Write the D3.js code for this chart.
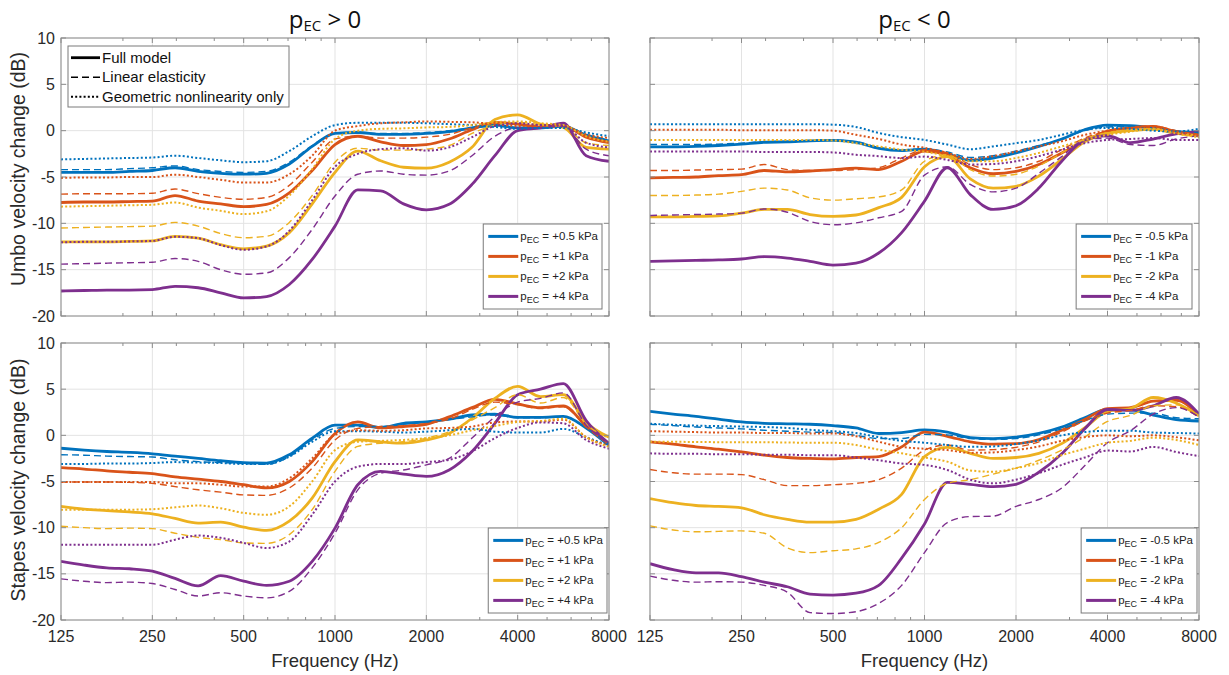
<!DOCTYPE html>
<html>
<head>
<meta charset="utf-8">
<script src="https://cdn.jsdelivr.net/npm/d3@7"></script>
<style>
    body { margin: 0; background: #fff; }
    svg { display: block; }
</style>
</head>
<body>
<svg id="chart" width="1229" height="675"></svg>
<script>
const freqs = [125, 149, 177, 210, 250, 297, 354, 420, 500, 595, 707, 841, 1000,
    1189, 1414, 1682, 2000, 2378, 2828, 3364, 4000, 4757, 5657, 6727, 8000];
const xTicks = [125, 250, 500, 1000, 2000, 4000, 8000];
const xMinorTicks = [200, 300, 400, 600, 700, 800, 900, 3000, 5000, 6000, 7000];
const yTicks = [10, 5, 0, -5, -10, -15, -20];
const seriesColors = ['#0072BD', '#D95319', '#EDB120', '#7E2F8E'];
const posLabels = ['+0.5', '+1', '+2', '+4'];
const negLabels = ['-0.5', '-1', '-2', '-4'];
const modelLabels = ['Full model', 'Linear elasticity', 'Geometric nonlinearity only'];

// umbo, pEC > 0  (rows: +0.5, +1, +2, +4 kPa)
const umboPosFull = [
    [-4.5,-4.5,-4.5,-4.4,-4.3,-4.0,-4.4,-4.6,-4.7,-4.6,-3.6,-1.7,-0.3,-0.2,-0.4,-0.4,-0.3,-0.1,0.3,0.6,0.3,0.3,0.5,-0.5,-1.1],
    [-7.75,-7.7,-7.7,-7.65,-7.6,-7.0,-7.6,-7.9,-8.2,-7.95,-6.7,-4.3,-1.5,-0.6,-1.2,-1.6,-1.5,-0.9,0.1,0.9,0.7,0.4,0.5,-0.7,-1.3],
    [-12.0,-12.0,-12.0,-11.95,-11.9,-11.4,-11.6,-12.3,-12.75,-12.45,-11.0,-7.9,-4.5,-2.2,-3.25,-3.95,-4.05,-3.4,-1.8,1.2,1.7,0.7,0.35,-1.8,-2.0],
    [-17.3,-17.25,-17.2,-17.2,-17.15,-16.8,-16.95,-17.5,-18.05,-17.9,-16.6,-13.9,-10.3,-6.4,-6.5,-7.9,-8.55,-7.95,-5.8,-2.7,0,0.3,0.8,-2.7,-3.3]
];
const umboPosLinear = [
    [-4.2,-4.2,-4.2,-4.1,-4.0,-3.8,-4.2,-4.4,-4.5,-4.4,-3.4,-1.6,-0.3,-0.2,-0.3,-0.3,-0.2,0,0.3,0.5,0.3,0.3,0.4,-0.4,-1.0],
    [-6.85,-6.8,-6.8,-6.8,-6.75,-6.3,-6.8,-7.2,-7.4,-7.2,-5.9,-3.4,-0.9,-0.6,-0.8,-0.8,-0.7,-0.4,0.3,0.8,0.7,0.5,0.5,-0.6,-1.2],
    [-10.5,-10.45,-10.4,-10.35,-10.3,-9.9,-10.3,-11.1,-11.55,-11.4,-9.9,-7.0,-3.4,-1.9,-2.1,-2.1,-2.0,-1.6,-0.3,0.6,0.9,0.6,0.4,-1.3,-1.6],
    [-14.4,-14.35,-14.3,-14.25,-14.2,-13.8,-14.1,-15.0,-15.5,-15.35,-13.7,-10.65,-7.05,-4.7,-4.35,-4.7,-4.8,-4.35,-2.7,-0.6,0.3,0.3,0.5,-2.0,-2.7]
];
const umboPosGeom = [
    [-3.1,-3.05,-3.0,-2.95,-2.9,-2.7,-2.95,-3.2,-3.4,-3.3,-2.2,-0.6,0.6,0.85,0.85,0.85,0.8,0.7,0.6,0.4,0.2,0.3,0.3,-0.2,-0.6],
    [-5.1,-5.05,-5.05,-5.0,-5.0,-4.75,-5.0,-5.3,-5.6,-5.6,-4.7,-2.7,0,0.5,0.8,0.9,1.0,0.95,0.9,0.7,0.5,0.6,0.5,-0.4,-0.8],
    [-8.2,-8.15,-8.1,-8.05,-8.0,-7.75,-8.3,-8.65,-9.0,-8.7,-7.0,-4.15,-0.9,0,0.2,0.25,0.35,0.4,0.6,0.9,1.0,0.8,0.6,-0.6,-1.2],
    [-12.05,-12.0,-12.0,-11.95,-11.9,-11.45,-11.6,-12.35,-12.85,-12.5,-10.8,-7.5,-3.9,-2.5,-2.0,-1.9,-2.15,-1.8,-0.7,0.5,0.8,0.6,0.5,-1.3,-1.8]
];

// umbo, pEC < 0  (rows: -0.5, -1, -2, -4 kPa)
const umboNegFull = [
    [-1.75,-1.75,-1.7,-1.6,-1.45,-1.25,-1.2,-1.1,-1.05,-1.25,-1.9,-2.15,-2.0,-2.5,-3.2,-2.95,-2.4,-1.7,-0.9,0.1,0.6,0.55,0.3,-0.1,-0.2],
    [-5.1,-5.05,-5.0,-4.85,-4.75,-4.3,-4.45,-4.35,-4.2,-4.05,-4.2,-3.3,-2.2,-2.6,-4.0,-4.65,-4.4,-3.65,-2.4,-1.15,-0.05,0.3,0.45,-0.1,-0.5],
    [-9.3,-9.3,-9.25,-9.2,-8.9,-8.5,-8.5,-9.05,-9.25,-9.1,-8.3,-7.2,-3.9,-2.8,-5.2,-6.2,-6.0,-4.9,-3.1,-1.2,-0.3,0,0.15,-0.3,-0.6],
    [-14.1,-14.05,-14.0,-13.95,-13.85,-13.6,-13.75,-14.1,-14.5,-14.3,-13.2,-11.0,-7.6,-4.0,-6.9,-8.5,-8.1,-6.2,-3.3,-1.0,-0.55,-1.3,-0.9,-0.35,-0.1]
];
const umboNegLinear = [
    [-1.5,-1.5,-1.5,-1.45,-1.35,-1.2,-1.15,-1.05,-1.0,-1.2,-1.8,-2.05,-1.95,-2.3,-2.9,-2.7,-2.2,-1.6,-0.9,0,0.4,0.45,0.3,0,-0.2],
    [-4.3,-4.3,-4.25,-4.2,-4.15,-3.65,-4.2,-4.3,-4.3,-4.2,-4.0,-2.95,-2.05,-2.4,-3.65,-4.2,-4.0,-3.3,-2.05,-0.8,-0.05,0.3,0.5,0,-0.4],
    [-7.0,-7.0,-6.95,-6.85,-6.55,-6.2,-6.4,-7.25,-7.5,-7.35,-7.15,-6.4,-3.3,-2.6,-4.2,-4.9,-4.7,-3.8,-2.4,-0.9,-0.2,0.1,0.2,-0.2,-0.5],
    [-9.15,-9.1,-9.05,-9.0,-8.9,-8.45,-8.8,-9.8,-10.15,-9.95,-9.4,-8.7,-4.8,-3.9,-5.8,-6.6,-6.2,-4.6,-2.8,-1.0,-0.8,-1.5,-1.6,-0.9,-0.55]
];
const umboNegGeom = [
    [0.7,0.7,0.7,0.7,0.7,0.7,0.7,0.7,0.65,0.4,-0.25,-0.7,-1.0,-1.5,-2.0,-1.7,-1.35,-1.0,-0.45,0.1,0.3,0.2,0,-0.1,0.2],
    [0.1,0.1,0.1,0.1,0.05,0.05,0.05,0.05,0,-0.45,-0.9,-1.5,-1.85,-2.4,-3.05,-2.75,-2.25,-1.7,-1.15,-0.45,0,0.3,0.4,-0.2,-0.5],
    [-1.0,-1.0,-1.0,-1.0,-1.0,-1.0,-1.0,-1.0,-1.05,-1.35,-1.7,-2.05,-2.25,-2.75,-3.3,-3.3,-2.95,-2.4,-1.7,-1.0,-0.45,-0.1,0.2,-0.3,-0.7],
    [-2.25,-2.25,-2.25,-2.25,-2.25,-2.3,-2.3,-2.3,-2.35,-2.6,-2.75,-2.95,-2.8,-3.15,-3.65,-3.6,-3.3,-2.75,-2.05,-1.35,-1.0,-0.9,-0.8,-1.0,-1.0]
];

// stapes, pEC > 0
const stapesPosFull = [
    [-1.4,-1.6,-1.75,-1.85,-2.0,-2.25,-2.5,-2.75,-2.95,-3.0,-2.1,-0.3,1.1,1.1,0.85,1.3,1.45,1.75,2.2,2.3,1.95,1.95,2.05,0.8,-1.1],
    [-3.5,-3.65,-3.85,-4.0,-4.15,-4.5,-4.75,-5.0,-5.35,-5.7,-5.0,-2.85,0.2,1.45,0.8,0.95,1.2,2.0,3.0,3.9,3.4,3.0,3.2,1.0,-0.9],
    [-7.7,-8.0,-8.15,-8.3,-8.5,-9.0,-9.5,-9.4,-9.95,-10.3,-9.3,-6.8,-2.85,-0.5,-0.7,-0.85,-0.5,0.2,1.85,4.0,5.3,4.2,4.4,1.4,-0.2],
    [-13.65,-14.05,-14.35,-14.45,-14.7,-15.5,-16.3,-15.2,-15.8,-16.25,-15.8,-13.65,-10.05,-5.35,-3.9,-4.2,-4.45,-3.75,-1.75,1.3,4.4,5.0,5.6,1.6,-0.9]
];
const stapesPosLinear = [
    [-2.1,-2.15,-2.25,-2.3,-2.35,-2.65,-2.85,-2.95,-3.05,-3.15,-2.3,-0.5,0.75,0.95,0.95,1.2,1.45,1.7,2.0,2.2,1.9,1.9,2.0,0.8,-1.0],
    [-5.05,-5.05,-5.05,-5.1,-5.2,-5.55,-5.9,-6.15,-6.45,-6.5,-5.7,-3.55,-0.5,0.75,0.95,1.05,1.3,1.75,2.8,3.6,3.3,2.9,3.1,0.9,-1.0],
    [-9.85,-10.0,-10.1,-10.05,-10.1,-10.6,-11.05,-11.3,-11.65,-11.7,-10.75,-8.05,-3.9,-1.2,-0.85,-0.7,-0.3,0.4,1.65,3.0,4.4,3.5,4.1,1.2,-0.3],
    [-15.55,-15.8,-15.95,-15.9,-16.05,-16.7,-17.4,-17.05,-17.4,-17.6,-16.9,-14.35,-10.6,-5.9,-4.1,-3.75,-3.2,-2.5,-0.3,2.0,3.6,4.0,4.6,1.1,-0.9]
];
const stapesPosGeom = [
    [-3.1,-3.1,-3.05,-3.05,-3.0,-2.9,-2.95,-3.0,-3.1,-3.1,-2.3,-0.7,0.45,0.45,0.4,0.3,0.4,0.55,0.7,0.4,0.3,0.3,0.7,-0.2,-1.1],
    [-5.05,-5.05,-5.05,-5.05,-5.05,-5.2,-5.2,-5.35,-5.55,-5.55,-4.65,-2.5,0.05,0.55,0.5,0.55,0.75,0.8,0.95,1.4,1.5,1.5,1.7,-0.2,-1.1],
    [-8.05,-8.05,-8.05,-8.05,-8.0,-7.8,-7.6,-7.9,-8.4,-8.6,-7.7,-5.0,-1.6,-0.7,-0.6,-0.5,-0.3,0,0.55,1.0,1.45,1.55,1.8,-0.2,-1.25],
    [-11.85,-11.85,-11.85,-11.85,-11.85,-11.3,-10.85,-11.1,-11.65,-12.2,-11.5,-8.6,-5.0,-3.4,-3.1,-3.1,-2.9,-2.65,-1.75,-0.3,0.8,1.4,1.3,-0.5,-1.45]
];

// stapes, pEC < 0
const stapesNegFull = [
    [2.6,2.3,2.05,1.75,1.45,1.3,1.25,1.2,1.05,0.8,0.2,0.3,0.6,0.35,-0.25,-0.35,-0.2,0.2,0.9,1.9,2.8,2.75,2.2,1.7,1.55],
    [-0.7,-0.95,-1.25,-1.5,-1.8,-2.15,-2.4,-2.5,-2.55,-2.4,-2.3,-1.25,0.35,-0.1,-0.7,-0.95,-0.9,-0.45,0.55,1.7,2.9,3.0,3.7,3.8,2.15],
    [-6.85,-7.3,-7.6,-7.7,-7.85,-8.6,-9.1,-9.4,-9.4,-9.1,-8.0,-6.4,-2.3,-1.3,-1.95,-2.5,-2.4,-1.95,-0.9,0.8,2.6,2.9,4.1,3.5,2.1],
    [-13.9,-14.55,-14.9,-14.9,-15.3,-15.9,-16.4,-17.2,-17.3,-17.1,-16.25,-13.3,-9.6,-5.1,-5.3,-5.55,-5.3,-4.0,-2.0,0.7,2.8,2.7,3.2,4.1,2.3]
];
const stapesNegLinear = [
    [1.2,1.05,0.9,0.8,0.7,0.55,0.45,0.35,0.3,0,-0.35,-0.35,0.1,0.05,-0.35,-0.45,-0.35,0.05,0.7,1.6,2.3,2.4,2.4,1.9,1.8],
    [-3.7,-4.05,-4.2,-4.2,-4.25,-4.8,-5.45,-5.45,-5.35,-5.2,-4.8,-3.55,-1.6,-1.05,-1.6,-1.55,-1.3,-0.7,0.35,1.55,2.4,2.7,3.2,3.1,1.95],
    [-9.8,-10.25,-10.45,-10.4,-10.35,-10.6,-12.2,-12.7,-12.5,-12.3,-11.6,-10.0,-6.95,-5.2,-4.8,-4.2,-3.55,-2.7,-1.6,-0.2,1.5,2.15,3.2,3.3,2.15],
    [-15.25,-15.7,-15.9,-15.85,-15.9,-16.25,-17.0,-19.2,-19.3,-19.1,-18.2,-16.25,-12.7,-9.45,-8.8,-8.75,-7.7,-6.95,-5.7,-3.3,-0.8,0.5,2.3,3.0,2.0]
];
const stapesNegGeom = [
    [1.25,1.15,1.05,1.0,0.95,0.9,0.8,0.6,0.45,0.25,-0.2,-0.6,-0.8,-1.05,-1.25,-1.2,-0.95,-0.55,0,0.35,0.5,0.5,0.3,0.25,0.2],
    [0.45,0.4,0.35,0.3,0.3,0.25,0.25,0.2,0.2,-0.1,-0.7,-1.25,-1.45,-1.6,-1.9,-1.85,-1.6,-1.2,-0.6,-0.2,0,-0.1,0,-0.2,-0.55],
    [-0.7,-0.7,-0.72,-0.74,-0.75,-0.75,-0.78,-0.8,-0.8,-1.05,-1.55,-1.95,-2.4,-2.85,-3.8,-3.95,-3.55,-3.0,-2.15,-1.45,-0.8,-0.6,-0.25,-0.5,-1.05],
    [-1.95,-2.0,-2.0,-2.05,-2.05,-2.1,-2.1,-2.15,-2.15,-2.4,-2.7,-3.05,-3.2,-3.75,-4.8,-5.2,-4.8,-4.1,-3.2,-2.4,-1.65,-1.75,-1.25,-1.8,-2.25]
];

const svg = d3.select('#chart');
const axisFont = '"Liberation Sans", Arial, sans-serif';

const panels = [
    { id: 'tl', left: 61, right: 609, top: 38, bottom: 316, full: umboPosFull, lin: umboPosLinear, geo: umboPosGeom,
      labels: posLabels, ylabel: 'Umbo velocity change (dB)', ylabelY: 169, xlabels: false, title: ' > 0', legendPad: 7 },
    { id: 'tr', left: 650, right: 1199, top: 38, bottom: 316, full: umboNegFull, lin: umboNegLinear, geo: umboNegGeom,
      labels: negLabels, ylabel: null, xlabels: false, title: ' < 0', legendPad: 7 },
    { id: 'bl', left: 61, right: 609, top: 343, bottom: 620, full: stapesPosFull, lin: stapesPosLinear, geo: stapesPosGeom,
      labels: posLabels, ylabel: 'Stapes velocity change (dB)', ylabelY: 480, xlabels: true, title: null, legendPad: 2 },
    { id: 'br', left: 650, right: 1199, top: 343, bottom: 620, full: stapesNegFull, lin: stapesNegLinear, geo: stapesNegGeom,
      labels: negLabels, ylabel: null, xlabels: true, title: null, legendPad: 2 }
];

const modelStyles = [
    { key: 'full', width: 2.8, dash: null },
    { key: 'lin', width: 1.4, dash: '7,4' },
    { key: 'geo', width: 2, dash: '2,2.2' }
];

panels.forEach(drawPanel);
drawModelLegend();

function drawPanel(p) {
    const x = d3.scaleLog().domain([125, 8000]).range([p.left, p.right]);
    const y = d3.scaleLinear().domain([-20, 10]).range([p.bottom, p.top]);
    const g = svg.append('g');

    // grid
    g.selectAll('.vgrid').data(xTicks).enter().append('line')
        .attr('x1', d => x(d)).attr('x2', d => x(d))
        .attr('y1', p.top).attr('y2', p.bottom)
        .attr('stroke', '#e3e3e3').attr('stroke-width', 1);
    g.selectAll('.hgrid').data(yTicks).enter().append('line')
        .attr('x1', p.left).attr('x2', p.right)
        .attr('y1', d => y(d)).attr('y2', d => y(d))
        .attr('stroke', '#e3e3e3').attr('stroke-width', 1);

    // curves
    const clipId = 'clip-' + p.id;
    svg.append('clipPath').attr('id', clipId).append('rect')
        .attr('x', p.left).attr('y', p.top)
        .attr('width', p.right - p.left).attr('height', p.bottom - p.top);

    const line = d3.line()
        .x((d, i) => x(freqs[i]))
        .y(d => y(d))
        .curve(d3.curveMonotoneX);

    const curves = g.append('g').attr('clip-path', `url(#${clipId})`);
    modelStyles.forEach(style => {
        p[style.key].forEach((values, ci) => {
            curves.append('path')
                .attr('d', line(values))
                .attr('fill', 'none')
                .attr('stroke', seriesColors[ci])
                .attr('stroke-width', style.width)
                .attr('stroke-dasharray', style.dash)
                .attr('stroke-linejoin', 'round');
        });
    });

    // box + ticks
    g.append('rect')
        .attr('x', p.left).attr('y', p.top)
        .attr('width', p.right - p.left).attr('height', p.bottom - p.top)
        .attr('fill', 'none').attr('stroke', '#8c8c8c').attr('stroke-width', 1);

    const ticks = g.append('g').attr('stroke', '#8c8c8c').attr('stroke-width', 1);
    xTicks.forEach(t => {
        ticks.append('line').attr('x1', x(t)).attr('x2', x(t)).attr('y1', p.bottom).attr('y2', p.bottom - 5);
        ticks.append('line').attr('x1', x(t)).attr('x2', x(t)).attr('y1', p.top).attr('y2', p.top + 5);
    });
    xMinorTicks.forEach(t => {
        ticks.append('line').attr('x1', x(t)).attr('x2', x(t)).attr('y1', p.bottom).attr('y2', p.bottom - 3);
        ticks.append('line').attr('x1', x(t)).attr('x2', x(t)).attr('y1', p.top).attr('y2', p.top + 3);
    });
    yTicks.forEach(t => {
        ticks.append('line').attr('x1', p.left).attr('x2', p.left + 5).attr('y1', y(t)).attr('y2', y(t));
        ticks.append('line').attr('x1', p.right).attr('x2', p.right - 5).attr('y1', y(t)).attr('y2', y(t));
    });

    // tick labels
    if (p.ylabel) {
        g.selectAll('.ytl').data(yTicks).enter().append('text')
            .attr('x', p.left - 6).attr('y', d => y(d))
            .attr('dy', '0.35em')
            .attr('text-anchor', 'end')
            .attr('font-family', axisFont).attr('font-size', 16).attr('fill', '#2a2a2a')
            .text(d => d);

        g.append('text')
            .attr('transform', `translate(25,${p.ylabelY}) rotate(-90)`)
            .attr('text-anchor', 'middle')
            .attr('font-family', axisFont).attr('font-size', 19.5).attr('fill', '#2a2a2a')
            .text(p.ylabel);
    }
    if (p.xlabels) {
        g.selectAll('.xtl').data(xTicks).enter().append('text')
            .attr('x', d => x(d)).attr('y', 642)
            .attr('text-anchor', 'middle')
            .attr('font-family', axisFont).attr('font-size', 16).attr('fill', '#2a2a2a')
            .text(d => d);

        g.append('text')
            .attr('x', (p.left + p.right) / 2).attr('y', 667)
            .attr('text-anchor', 'middle')
            .attr('font-family', axisFont).attr('font-size', 18.5).attr('fill', '#2a2a2a')
            .text('Frequency (Hz)');
    }
    if (p.title) {
        const t = svg.append('text')
            .attr('x', (p.left + p.right) / 2 - 10).attr('y', 28)
            .attr('text-anchor', 'middle')
            .attr('font-family', '"Open Sans", "Noto Sans", sans-serif')
            .attr('font-size', 24).attr('fill', '#111');
        t.append('tspan').text('p');
        t.append('tspan').attr('font-size', 15).attr('dy', 3).text('EC');
        t.append('tspan').attr('dy', -3).text(p.title);
    }

    drawPressureLegend(p);
}

function drawPressureLegend(p) {
    const lg = svg.append('g');
    const rows = lg.selectAll('g').data(p.labels).enter().append('g')
        .attr('transform', (d, i) => `translate(0,${12.4 + i * 20})`);
    rows.append('line')
        .attr('x1', 5).attr('x2', 35).attr('y1', 0).attr('y2', 0)
        .attr('stroke', (d, i) => seriesColors[i]).attr('stroke-width', 3);
    const txt = rows.append('text')
        .attr('x', 37).attr('y', 4)
        .attr('font-family', axisFont).attr('font-size', 11.5).attr('fill', '#222');
    txt.append('tspan').text('p');
    txt.append('tspan').attr('font-size', 9).attr('dy', 3).text('EC');
    txt.append('tspan').attr('dy', -3).text(d => ` = ${d} kPa`);

    const w = d3.max(txt.nodes(), n => n.getComputedTextLength()) + 37 + 4;
    const boxLeft = p.right - p.legendPad - w;
    const boxTop = p.bottom - 92;
    lg.insert('rect', ':first-child')
        .attr('x', 0).attr('y', 0).attr('width', w).attr('height', 85)
        .attr('fill', '#fff').attr('stroke', '#7a7a7a').attr('stroke-width', 1);
    lg.attr('transform', `translate(${boxLeft},${boxTop})`);
}

function drawModelLegend() {
    const lg = svg.append('g').attr('transform', 'translate(68,46)');
    lg.append('rect')
        .attr('width', 221).attr('height', 61)
        .attr('fill', '#fff').attr('stroke', '#7a7a7a').attr('stroke-width', 1);
    const rows = lg.selectAll('g').data(modelLabels).enter().append('g')
        .attr('transform', (d, i) => `translate(0,${11.7 + i * 19.5})`);
    rows.append('line')
        .attr('x1', 3).attr('x2', 32).attr('y1', 0).attr('y2', 0)
        .attr('stroke', '#000')
        .attr('stroke-width', (d, i) => modelStyles[i].width)
        .attr('stroke-dasharray', (d, i) => modelStyles[i].dash);
    rows.append('text')
        .attr('x', 34).attr('y', 5)
        .attr('font-family', axisFont).attr('font-size', 15).attr('fill', '#111')
        .text(d => d);
}
</script>
</body>
</html>
